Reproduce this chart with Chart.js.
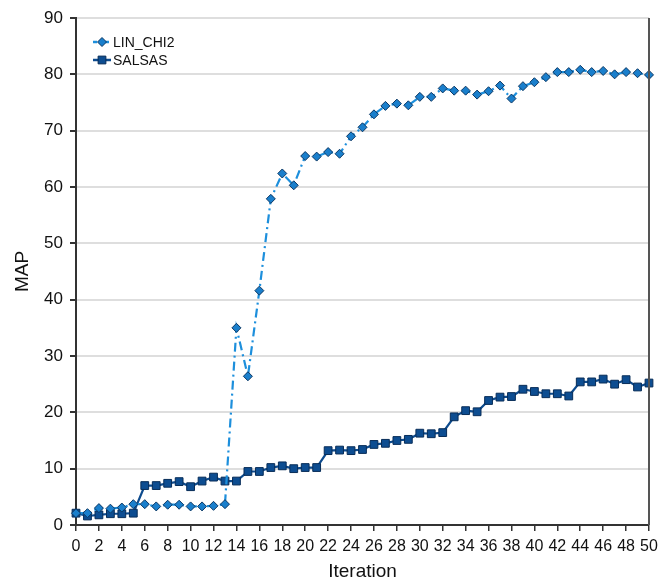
<!DOCTYPE html>
<html lang="en">
<head>
    <meta charset="UTF-8">
    <title>MAP per Iteration</title>
    <script src="https://cdn.jsdelivr.net/npm/chart.js"></script>
    <style>
        html, body { margin: 0; padding: 0; background: #fff; }
        #wrap { width: 669px; height: 581px; position: relative; }
    </style>
</head>
<body>
    <div id="wrap"><canvas id="mapChart"></canvas></div>

    <script>
        // iterations (x values)
        const iterations = [0, 1, 2, 3, 4, 5, 6, 7, 8, 9, 10, 11, 12, 13, 14, 15, 16, 17, 18, 19, 20,
            21, 22, 23, 24, 25, 26, 27, 28, 29, 30, 31, 32, 33, 34, 35, 36, 37, 38, 39, 40,
            41, 42, 43, 44, 45, 46, 47, 48, 49, 50];

        const linChi2 = [2.1, 2.1, 3.0, 2.9, 3.1, 3.7, 3.7, 3.3, 3.6, 3.6, 3.3, 3.3, 3.4, 3.7,
            35.0, 26.4, 41.6, 57.9, 62.4, 60.3, 65.5, 65.4, 66.2, 65.9, 69.0, 70.6, 72.9, 74.4,
            74.8, 74.5, 76.0, 76.0, 77.5, 77.1, 77.1, 76.4, 77.0, 78.0, 75.7, 77.9, 78.6, 79.5,
            80.4, 80.4, 80.8, 80.4, 80.6, 80.0, 80.4, 80.2, 79.9];

        const salsas = [2.1, 1.6, 1.8, 2.0, 2.0, 2.1, 7.0, 7.0, 7.4, 7.7, 6.8, 7.8, 8.5, 7.8,
            7.8, 9.5, 9.5, 10.2, 10.5, 10.0, 10.2, 10.2, 13.2, 13.3, 13.2, 13.4, 14.3, 14.5,
            15.0, 15.2, 16.3, 16.2, 16.4, 19.2, 20.3, 20.1, 22.1, 22.7, 22.8, 24.1, 23.7, 23.3,
            23.3, 22.9, 25.4, 25.4, 25.9, 25.0, 25.8, 24.5, 25.2];

        const seriesNames = ["LIN_CHI2", "SALSAS"];

        const toPoints = (vals) => vals.map((v, i) => ({ x: iterations[i], y: v }));

        const lightBlue = "#1d8fdc";
        const darkBlue = "#0d4b8e";

        // legend drawn inside the plot, line + marker like the original
        const insideLegend = {
            id: "insideLegend",
            afterDatasetsDraw(chart) {
                const ctx = chart.ctx;
                const x0 = chart.chartArea.left + 17;
                const rows = [chart.chartArea.top + 24, chart.chartArea.top + 42];
                chart.data.datasets.forEach((ds, i) => {
                    const y = rows[i];
                    ctx.save();
                    ctx.strokeStyle = ds.borderColor;
                    ctx.lineWidth = 2.5;
                    ctx.setLineDash(ds.borderDash ? [4, 2] : []);
                    ctx.beginPath();
                    ctx.moveTo(x0, y);
                    ctx.lineTo(x0 + 18, y);
                    ctx.stroke();
                    ctx.setLineDash([]);
                    ctx.fillStyle = ds.pointBackgroundColor;
                    ctx.strokeStyle = ds.pointBorderColor;
                    ctx.lineWidth = 1;
                    Chart.helpers.drawPoint(ctx, { pointStyle: ds.pointStyle, radius: ds.pointRadius, borderWidth: 1 }, x0 + 9, y);
                    ctx.fillStyle = "#111";
                    ctx.font = "14px 'Liberation Sans', Arial, sans-serif";
                    ctx.textBaseline = "middle";
                    ctx.fillText(ds.label, x0 + 20, y + 1);
                    ctx.restore();
                });
            }
        };

        // right hand frame line
        const rightFrame = {
            id: "rightFrame",
            afterDraw(chart) {
                const { ctx, chartArea } = chart;
                ctx.save();
                ctx.strokeStyle = "#555";
                ctx.lineWidth = 2;
                ctx.beginPath();
                ctx.moveTo(chartArea.right, chartArea.top);
                ctx.lineTo(chartArea.right, chartArea.bottom);
                ctx.stroke();
                ctx.restore();
            }
        };

        const tickFont = { family: "'Liberation Sans', Arial, sans-serif", size: 16 };
        const titleFont = { family: "'Liberation Sans', Arial, sans-serif", size: 19 };

        new Chart(document.getElementById("mapChart"), {
            type: "line",
            data: {
                datasets: [
                    {
                        label: seriesNames[0],
                        data: toPoints(linChi2),
                        borderColor: lightBlue,
                        borderWidth: 2.2,
                        borderDash: [9, 4, 2, 4],
                        pointStyle: "rectRot",
                        pointRadius: 4.5,
                        pointBackgroundColor: "#1a7fcc",
                        pointBorderColor: "#0b3763",
                        pointBorderWidth: 1,
                        tension: 0,
                        clip: false
                    },
                    {
                        label: seriesNames[1],
                        data: toPoints(salsas),
                        borderColor: darkBlue,
                        borderWidth: 2.2,
                        pointStyle: "rect",
                        pointRadius: 5.5,
                        pointBackgroundColor: "#0d4d91",
                        pointBorderColor: "#082d58",
                        pointBorderWidth: 1,
                        tension: 0,
                        clip: false
                    }
                ]
            },
            options: {
                responsive: true,
                maintainAspectRatio: false,
                animation: false,
                layout: { padding: { top: 18, right: 20, bottom: 0, left: 0 } },
                plugins: {
                    legend: { display: false },
                    tooltip: { enabled: false }
                },
                scales: {
                    x: {
                        type: "linear",
                        min: 0,
                        max: 50,
                        afterFit: (scale) => { scale.height = 56; },
                        border: { color: "#333", width: 2 },
                        grid: { drawOnChartArea: false, tickLength: 6, tickColor: "#333", lineWidth: 1.5 },
                        ticks: {
                            stepSize: 2,
                            autoSkip: false,
                            maxRotation: 0,
                            padding: 6,
                            color: "#111",
                            font: tickFont
                        },
                        title: {
                            display: true,
                            text: "Iteration",
                            color: "#111",
                            padding: { top: 0, bottom: -2 },
                            font: titleFont
                        }
                    },
                    y: {
                        min: 0,
                        max: 90,
                        afterFit: (scale) => { scale.width = 76; },
                        border: { color: "#333", width: 2 },
                        grid: { color: "#dedede", lineWidth: 2, tickLength: 6, tickColor: "#333" },
                        ticks: {
                            stepSize: 10,
                            padding: 7,
                            color: "#111",
                            font: { family: "'Liberation Sans', Arial, sans-serif", size: 17 }
                        },
                        title: {
                            display: true,
                            text: "MAP",
                            color: "#111",
                            padding: 11,
                            font: titleFont
                        }
                    }
                }
            },
            plugins: [insideLegend, rightFrame]
        });
    </script>
</body>
</html>
